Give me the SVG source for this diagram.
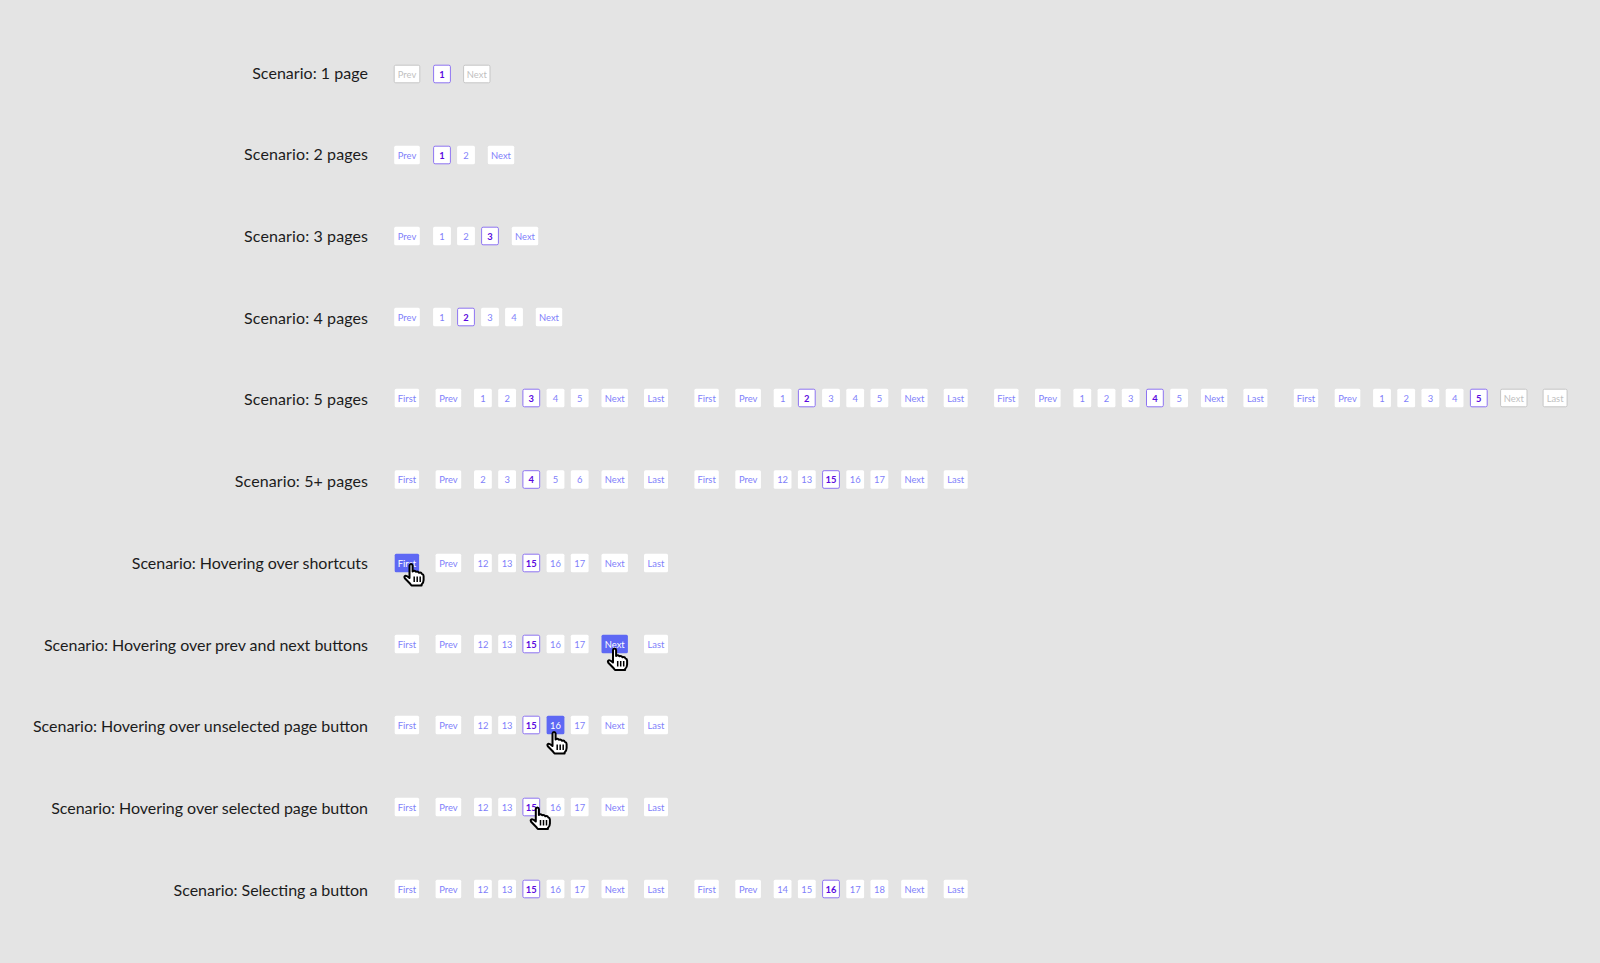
<svg xmlns="http://www.w3.org/2000/svg" width="1600" height="963" viewBox="0 0 1600 963">
<style>
text{font-family:"Lato","Noto Sans","Liberation Sans",sans-serif}
.l{font-size:16px;fill:#1c1c1c;text-anchor:end;dominant-baseline:central}
.f rect,.v rect,.n rect,.a rect,.p rect,.s rect{y:-9.3px;height:18.6px;rx:1.5px;fill:#fff}
.f rect{x:-12.2px;width:24.4px}
.v rect{x:-12.8px;width:25.6px}
.n rect{x:-13.2px;width:26.4px}
.a rect{x:-12px;width:24px}
.p rect,.s rect{x:-8.9px;width:17.8px}
.s rect{stroke:#8e74f2;stroke-width:1;x:-8.4px;width:16.8px;y:-8.8px;height:17.6px}
.f text,.v text,.n text,.a text,.p text,.s text{font-size:9.4px;fill:#7f7ffa;text-anchor:middle;dominant-baseline:central}
.s text{fill:#5a08e0;font-weight:700}
g.d rect{stroke:#c6c6c6;stroke-width:1;y:-8.8px;height:17.6px}
g.d text{fill:#bfbfbf}
g.h rect{fill:#5e68f4}
g.h text{fill:#fff}
</style>
<defs>
<g id="hand"><path d="M5.5 1.6Q5.6 0 7 0Q8.5 0 8.6 1.6V7.4Q10.6 6 11.8 7.8Q13.8 6.8 15 8.8Q17.2 8 18 10Q19.6 10.2 19.6 12V16Q19.6 18.8 17.6 20.6V21.5H7.5L6.2 19.8L0.8 14.2Q-.1 12.6 1.2 11.8Q2.6 11.2 5.5 14Z" fill="#fff" stroke="#000" stroke-width="2" stroke-linejoin="round"/><path d="M10.2 12.5V18M13.2 12.5V18M16.2 12.5V18" fill="none" stroke="#000" stroke-width="1.5"/></g>
</defs>
<rect id="background" width="1600" height="963" fill="#e4e4e4"/>
<g id="connectors"/>
<g id="scenario-1">
<text class="l" x="368" y="72" textLength="115.8">Scenario: 1 page</text>
<g class="v d" transform="translate(407,74)"><rect/><text>Prev</text></g>
<g class="s" transform="translate(442,74)"><rect/><text>1</text></g>
<g class="n d" transform="translate(476.8,74)"><rect/><text>Next</text></g>
</g>
<g id="scenario-2">
<text class="l" x="368" y="153" textLength="123.9">Scenario: 2 pages</text>
<g class="v" transform="translate(407,155)"><rect/><text>Prev</text></g>
<g class="s" transform="translate(442,155)"><rect/><text>1</text></g>
<g class="p" transform="translate(466,155)"><rect/><text>2</text></g>
<g class="n" transform="translate(501,155)"><rect/><text>Next</text></g>
</g>
<g id="scenario-3">
<text class="l" x="368" y="235" textLength="123.9">Scenario: 3 pages</text>
<g class="v" transform="translate(407,236)"><rect/><text>Prev</text></g>
<g class="p" transform="translate(442,236)"><rect/><text>1</text></g>
<g class="p" transform="translate(466,236)"><rect/><text>2</text></g>
<g class="s" transform="translate(490,236)"><rect/><text>3</text></g>
<g class="n" transform="translate(525,236)"><rect/><text>Next</text></g>
</g>
<g id="scenario-4">
<text class="l" x="368" y="317" textLength="123.9">Scenario: 4 pages</text>
<g class="v" transform="translate(407,317)"><rect/><text>Prev</text></g>
<g class="p" transform="translate(442,317)"><rect/><text>1</text></g>
<g class="s" transform="translate(466,317)"><rect/><text>2</text></g>
<g class="p" transform="translate(490,317)"><rect/><text>3</text></g>
<g class="p" transform="translate(514,317)"><rect/><text>4</text></g>
<g class="n" transform="translate(549,317)"><rect/><text>Next</text></g>
</g>
<g id="scenario-5">
<text class="l" x="368" y="398" textLength="123.9">Scenario: 5 pages</text>
<g id="s5-a" transform="translate(0,398)">
<g class="f" transform="translate(406.9,0)"><rect/><text>First</text></g>
<g class="v" transform="translate(448.4,0)"><rect/><text>Prev</text></g>
<g class="p" transform="translate(482.9,0)"><rect/><text>1</text></g>
<g class="p" transform="translate(507.1,0)"><rect/><text>2</text></g>
<g class="s" transform="translate(531.3,0)"><rect/><text>3</text></g>
<g class="p" transform="translate(555.5,0)"><rect/><text>4</text></g>
<g class="p" transform="translate(579.7,0)"><rect/><text>5</text></g>
<g class="n" transform="translate(614.7,0)"><rect/><text>Next</text></g>
<g class="a" transform="translate(656,0)"><rect/><text>Last</text></g>
</g>
<g id="s5-b" transform="translate(299.7,398)">
<g class="f" transform="translate(406.9,0)"><rect/><text>First</text></g>
<g class="v" transform="translate(448.4,0)"><rect/><text>Prev</text></g>
<g class="p" transform="translate(482.9,0)"><rect/><text>1</text></g>
<g class="s" transform="translate(507.1,0)"><rect/><text>2</text></g>
<g class="p" transform="translate(531.3,0)"><rect/><text>3</text></g>
<g class="p" transform="translate(555.5,0)"><rect/><text>4</text></g>
<g class="p" transform="translate(579.7,0)"><rect/><text>5</text></g>
<g class="n" transform="translate(614.7,0)"><rect/><text>Next</text></g>
<g class="a" transform="translate(656,0)"><rect/><text>Last</text></g>
</g>
<g id="s5-c" transform="translate(599.4,398)">
<g class="f" transform="translate(406.9,0)"><rect/><text>First</text></g>
<g class="v" transform="translate(448.4,0)"><rect/><text>Prev</text></g>
<g class="p" transform="translate(482.9,0)"><rect/><text>1</text></g>
<g class="p" transform="translate(507.1,0)"><rect/><text>2</text></g>
<g class="p" transform="translate(531.3,0)"><rect/><text>3</text></g>
<g class="s" transform="translate(555.5,0)"><rect/><text>4</text></g>
<g class="p" transform="translate(579.7,0)"><rect/><text>5</text></g>
<g class="n" transform="translate(614.7,0)"><rect/><text>Next</text></g>
<g class="a" transform="translate(656,0)"><rect/><text>Last</text></g>
</g>
<g id="s5-d" transform="translate(899.1,398)">
<g class="f" transform="translate(406.9,0)"><rect/><text>First</text></g>
<g class="v" transform="translate(448.4,0)"><rect/><text>Prev</text></g>
<g class="p" transform="translate(482.9,0)"><rect/><text>1</text></g>
<g class="p" transform="translate(507.1,0)"><rect/><text>2</text></g>
<g class="p" transform="translate(531.3,0)"><rect/><text>3</text></g>
<g class="p" transform="translate(555.5,0)"><rect/><text>4</text></g>
<g class="s" transform="translate(579.7,0)"><rect/><text>5</text></g>
<g class="n d" transform="translate(614.7,0)"><rect/><text>Next</text></g>
<g class="a d" transform="translate(656,0)"><rect/><text>Last</text></g>
</g>
</g>
<g id="scenario-5-plus">
<text class="l" x="368" y="480" textLength="133.2">Scenario: 5+ pages</text>
<g id="s6-a" transform="translate(0,479.5)">
<g class="f" transform="translate(406.9,0)"><rect/><text>First</text></g>
<g class="v" transform="translate(448.4,0)"><rect/><text>Prev</text></g>
<g class="p" transform="translate(482.9,0)"><rect/><text>2</text></g>
<g class="p" transform="translate(507.1,0)"><rect/><text>3</text></g>
<g class="s" transform="translate(531.3,0)"><rect/><text>4</text></g>
<g class="p" transform="translate(555.5,0)"><rect/><text>5</text></g>
<g class="p" transform="translate(579.7,0)"><rect/><text>6</text></g>
<g class="n" transform="translate(614.7,0)"><rect/><text>Next</text></g>
<g class="a" transform="translate(656,0)"><rect/><text>Last</text></g>
</g>
<g id="s6-b" transform="translate(299.7,479.5)">
<g class="f" transform="translate(406.9,0)"><rect/><text>First</text></g>
<g class="v" transform="translate(448.4,0)"><rect/><text>Prev</text></g>
<g class="p" transform="translate(482.9,0)"><rect/><text>12</text></g>
<g class="p" transform="translate(507.1,0)"><rect/><text>13</text></g>
<g class="s" transform="translate(531.3,0)"><rect/><text>15</text></g>
<g class="p" transform="translate(555.5,0)"><rect/><text>16</text></g>
<g class="p" transform="translate(579.7,0)"><rect/><text>17</text></g>
<g class="n" transform="translate(614.7,0)"><rect/><text>Next</text></g>
<g class="a" transform="translate(656,0)"><rect/><text>Last</text></g>
</g>
</g>
<g id="scenario-hover-shortcuts">
<text class="l" x="368" y="562" textLength="236.2">Scenario: Hovering over shortcuts</text>
<g transform="translate(0,563)">
<g class="f h" transform="translate(406.9,0)"><rect/><text>First</text></g>
<g class="v" transform="translate(448.4,0)"><rect/><text>Prev</text></g>
<g class="p" transform="translate(482.9,0)"><rect/><text>12</text></g>
<g class="p" transform="translate(507.1,0)"><rect/><text>13</text></g>
<g class="s" transform="translate(531.3,0)"><rect/><text>15</text></g>
<g class="p" transform="translate(555.5,0)"><rect/><text>16</text></g>
<g class="p" transform="translate(579.7,0)"><rect/><text>17</text></g>
<g class="n" transform="translate(614.7,0)"><rect/><text>Next</text></g>
<g class="a" transform="translate(656,0)"><rect/><text>Last</text></g>
</g>
<use href="#hand" x="404" y="564"/>
</g>
<g id="scenario-hover-prev-next">
<text class="l" x="368" y="644" textLength="324">Scenario: Hovering over prev and next buttons</text>
<g transform="translate(0,644)">
<g class="f" transform="translate(406.9,0)"><rect/><text>First</text></g>
<g class="v" transform="translate(448.4,0)"><rect/><text>Prev</text></g>
<g class="p" transform="translate(482.9,0)"><rect/><text>12</text></g>
<g class="p" transform="translate(507.1,0)"><rect/><text>13</text></g>
<g class="s" transform="translate(531.3,0)"><rect/><text>15</text></g>
<g class="p" transform="translate(555.5,0)"><rect/><text>16</text></g>
<g class="p" transform="translate(579.7,0)"><rect/><text>17</text></g>
<g class="n h" transform="translate(614.7,0)"><rect/><text>Next</text></g>
<g class="a" transform="translate(656,0)"><rect/><text>Last</text></g>
</g>
<use href="#hand" x="607.5" y="648.5"/>
</g>
<g id="scenario-hover-unselected">
<text class="l" x="368" y="725" textLength="335">Scenario: Hovering over unselected page button</text>
<g transform="translate(0,725)">
<g class="f" transform="translate(406.9,0)"><rect/><text>First</text></g>
<g class="v" transform="translate(448.4,0)"><rect/><text>Prev</text></g>
<g class="p" transform="translate(482.9,0)"><rect/><text>12</text></g>
<g class="p" transform="translate(507.1,0)"><rect/><text>13</text></g>
<g class="s" transform="translate(531.3,0)"><rect/><text>15</text></g>
<g class="p h" transform="translate(555.5,0)"><rect/><text>16</text></g>
<g class="p" transform="translate(579.7,0)"><rect/><text>17</text></g>
<g class="n" transform="translate(614.7,0)"><rect/><text>Next</text></g>
<g class="a" transform="translate(656,0)"><rect/><text>Last</text></g>
</g>
<use href="#hand" x="547" y="732"/>
</g>
<g id="scenario-hover-selected">
<text class="l" x="368" y="807" textLength="316.8">Scenario: Hovering over selected page button</text>
<g transform="translate(0,807)">
<g class="f" transform="translate(406.9,0)"><rect/><text>First</text></g>
<g class="v" transform="translate(448.4,0)"><rect/><text>Prev</text></g>
<g class="p" transform="translate(482.9,0)"><rect/><text>12</text></g>
<g class="p" transform="translate(507.1,0)"><rect/><text>13</text></g>
<g class="s" transform="translate(531.3,0)"><rect/><text>15</text></g>
<g class="p" transform="translate(555.5,0)"><rect/><text>16</text></g>
<g class="p" transform="translate(579.7,0)"><rect/><text>17</text></g>
<g class="n" transform="translate(614.7,0)"><rect/><text>Next</text></g>
<g class="a" transform="translate(656,0)"><rect/><text>Last</text></g>
</g>
<use href="#hand" x="530.3" y="807.5"/>
</g>
<g id="scenario-selecting">
<text class="l" x="368" y="889" textLength="194.4">Scenario: Selecting a button</text>
<g id="s11-a" transform="translate(0,889)">
<g class="f" transform="translate(406.9,0)"><rect/><text>First</text></g>
<g class="v" transform="translate(448.4,0)"><rect/><text>Prev</text></g>
<g class="p" transform="translate(482.9,0)"><rect/><text>12</text></g>
<g class="p" transform="translate(507.1,0)"><rect/><text>13</text></g>
<g class="s" transform="translate(531.3,0)"><rect/><text>15</text></g>
<g class="p" transform="translate(555.5,0)"><rect/><text>16</text></g>
<g class="p" transform="translate(579.7,0)"><rect/><text>17</text></g>
<g class="n" transform="translate(614.7,0)"><rect/><text>Next</text></g>
<g class="a" transform="translate(656,0)"><rect/><text>Last</text></g>
</g>
<g id="s11-b" transform="translate(299.7,889)">
<g class="f" transform="translate(406.9,0)"><rect/><text>First</text></g>
<g class="v" transform="translate(448.4,0)"><rect/><text>Prev</text></g>
<g class="p" transform="translate(482.9,0)"><rect/><text>14</text></g>
<g class="p" transform="translate(507.1,0)"><rect/><text>15</text></g>
<g class="s" transform="translate(531.3,0)"><rect/><text>16</text></g>
<g class="p" transform="translate(555.5,0)"><rect/><text>17</text></g>
<g class="p" transform="translate(579.7,0)"><rect/><text>18</text></g>
<g class="n" transform="translate(614.7,0)"><rect/><text>Next</text></g>
<g class="a" transform="translate(656,0)"><rect/><text>Last</text></g>
</g>
</g>
</svg>
